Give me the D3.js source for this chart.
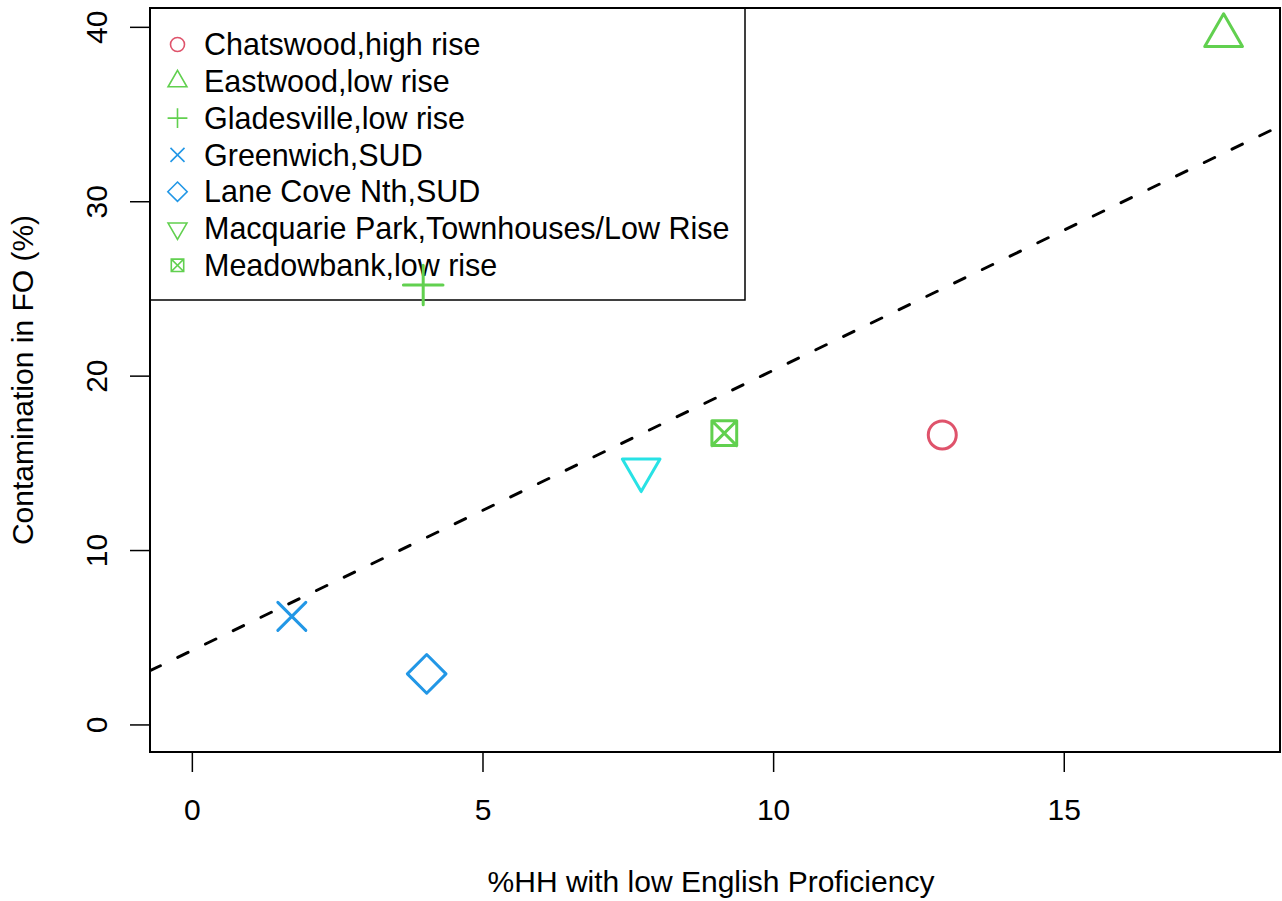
<!DOCTYPE html>
<html>
<head>
<meta charset="utf-8">
<script src="https://cdn.jsdelivr.net/npm/d3@7"></script>
<style>
  html, body { margin: 0; padding: 0; background: #fff; }
  svg { display: block; }
  text { font-family: "Liberation Sans", Arial, Helvetica, sans-serif; fill: #000; }
</style>
</head>
<body>
<svg id="chart" width="1282" height="901"></svg>
<script>
// Sites and their measurements
const sites = [
  "Chatswood,high rise",
  "Eastwood,low rise",
  "Gladesville,low rise",
  "Greenwich,SUD",
  "Lane Cove Nth,SUD",
  "Macquarie Park,Townhouses/Low Rise",
  "Meadowbank,low rise"
];
const lowEnglish    = [12.91, 17.75, 3.98, 1.72, 4.04, 7.73, 9.16];   // %HH with low English proficiency
const contamination = [16.6, 39.5, 25.2, 6.2, 2.9, 14.6, 16.7];      // contamination in FO (%)
const symbols       = [1, 2, 3, 4, 5, 6, 7];                          // R-style pch codes
const pointColors   = ["#DF536B", "#61D04F", "#61D04F", "#2297E6", "#2297E6", "#28E2E5", "#61D04F"];
const legendColors  = ["#DF536B", "#61D04F", "#61D04F", "#2297E6", "#2297E6", "#61D04F", "#61D04F"];

const xLimits = [0, 18];
const yLimits = [0, 39.5];
const xTicks = [0, 5, 10, 15];
const yTicks = [0, 10, 20, 30, 40];
const xTitle = "%HH with low English Proficiency";
const yTitle = "Contamination in FO (%)";

// plot region
const plot = { left: 150, right: 1280, top: 8, bottom: 752 };
const pad = lim => { const e = (lim[1] - lim[0]) * 0.04; return [lim[0] - e, lim[1] + e]; };

const x = d3.scaleLinear().domain(pad(xLimits)).range([plot.left, plot.right]);
const y = d3.scaleLinear().domain(pad(yLimits)).range([plot.bottom, plot.top]);

const svg = d3.select("#chart");

// symbol outlines modelled on R's base graphics point characters
function symbolPath(pch, s) {
  const p = d3.path();
  switch (pch) {
    case 1: p.arc(0, 0, s, 0, 2 * Math.PI); p.closePath(); break;
    case 2: {
      const r = 1.5551 * s, xc = 1.3468 * s, yc = 0.7776 * s;
      p.moveTo(0, -r); p.lineTo(xc, yc); p.lineTo(-xc, yc); p.closePath(); break;
    }
    case 3: {
      const h = Math.SQRT2 * s;
      p.moveTo(-h, 0); p.lineTo(h, 0); p.moveTo(0, -h); p.lineTo(0, h); break;
    }
    case 4:
      p.moveTo(-s, -s); p.lineTo(s, s); p.moveTo(-s, s); p.lineTo(s, -s); break;
    case 5: {
      const h = 1.38 * s;
      p.moveTo(0, -h); p.lineTo(h, 0); p.lineTo(0, h); p.lineTo(-h, 0); p.closePath(); break;
    }
    case 6: {
      const r = 1.5551 * s, xc = 1.3468 * s, yc = 0.7776 * s;
      p.moveTo(0, r); p.lineTo(xc, -yc); p.lineTo(-xc, -yc); p.closePath(); break;
    }
    case 7: {
      const h = 0.886 * s;
      p.rect(-h, -h, 2 * h, 2 * h);
      p.moveTo(-h, -h); p.lineTo(h, h); p.moveTo(-h, h); p.lineTo(h, -h); break;
    }
  }
  return p.toString();
}

// clip for everything drawn inside the plot region
svg.append("clipPath").attr("id", "plotClip")
  .append("rect")
  .attr("x", plot.left).attr("y", plot.top)
  .attr("width", plot.right - plot.left).attr("height", plot.bottom - plot.top);

const n = lowEnglish.length;
const fontSize = 30;

// legend (drawn first, so the points sit on top of it)
const legend = svg.append("g");
legend.append("rect")
  .attr("x", plot.left).attr("y", plot.top)
  .attr("width", 595).attr("height", 292)
  .attr("fill", "#fff").attr("stroke", "#000").attr("stroke-width", 1.5);

const rowY = i => 44.5 + i * 36.8;
const rows = legend.selectAll("g.row")
  .data(d3.range(n))
  .join("g").attr("class", "row")
  .attr("transform", i => `translate(0,${rowY(i)})`);

rows.append("path")
  .attr("transform", "translate(177.5,0)")
  .attr("d", i => symbolPath(symbols[i], 7))
  .attr("fill", "none")
  .attr("stroke", i => legendColors[i])
  .attr("stroke-width", 1.6);

rows.append("text")
  .attr("x", 204).attr("y", 0).attr("dy", "0.35em")
  .attr("font-size", 30.5)
  .text(i => sites[i]);

// least-squares fit of contamination on low English proficiency
const mx = d3.mean(lowEnglish), my = d3.mean(contamination);
let sxy = 0, sxx = 0;
for (let i = 0; i < n; i++) {
  sxy += (lowEnglish[i] - mx) * (contamination[i] - my);
  sxx += (lowEnglish[i] - mx) ** 2;
}
const slope = sxy / sxx, intercept = my - slope * mx;
const [x0, x1] = x.domain();

svg.append("line")
  .attr("clip-path", "url(#plotClip)")
  .attr("x1", x(x0)).attr("y1", y(intercept + slope * x0))
  .attr("x2", x(x1)).attr("y2", y(intercept + slope * x1))
  .attr("stroke", "#000").attr("stroke-width", 3)
  .attr("stroke-dasharray", "11.5 19.3")
  .attr("stroke-linecap", "round");

// points
svg.append("g").attr("clip-path", "url(#plotClip)")
  .selectAll("path")
  .data(d3.range(n))
  .join("path")
  .attr("transform", i => `translate(${x(lowEnglish[i])},${y(contamination[i])})`)
  .attr("d", i => symbolPath(symbols[i], 14))
  .attr("fill", "none")
  .attr("stroke", i => pointColors[i])
  .attr("stroke-width", 3)
  .attr("stroke-linecap", "round")
  .attr("stroke-linejoin", "round");

// axes
const xAxis = d3.axisBottom(x).tickValues(xTicks).tickSize(20).tickPadding(0).tickFormat(d3.format("d"));
const gx = svg.append("g").attr("transform", `translate(0,${plot.bottom})`).call(xAxis);
gx.select(".domain").remove();
gx.selectAll(".tick line").attr("stroke-width", 1.5);
gx.selectAll(".tick text")
  .attr("font-size", fontSize).attr("font-family", "Liberation Sans, Arial, sans-serif")
  .attr("dy", null).attr("y", 68).attr("fill", "#000");

const yAxis = d3.axisLeft(y).tickValues(yTicks).tickSize(20).tickPadding(0).tickFormat(d3.format("d"));
const gy = svg.append("g").attr("transform", `translate(${plot.left},0)`).call(yAxis);
gy.select(".domain").remove();
gy.selectAll(".tick line").attr("stroke-width", 1.5);
gy.selectAll(".tick text")
  .attr("font-size", fontSize).attr("font-family", "Liberation Sans, Arial, sans-serif")
  .attr("x", null).attr("dy", null)
  .attr("text-anchor", "middle")
  .attr("transform", "translate(-43,0) rotate(-90)")
  .attr("fill", "#000");

// plot box
svg.append("rect")
  .attr("x", plot.left).attr("y", plot.top)
  .attr("width", plot.right - plot.left).attr("height", plot.bottom - plot.top)
  .attr("fill", "none").attr("stroke", "#000").attr("stroke-width", 2);

// axis titles
svg.append("text")
  .attr("x", 711).attr("y", 892)
  .attr("text-anchor", "middle").attr("font-size", fontSize)
  .text(xTitle);

svg.append("text")
  .attr("transform", `translate(33,${(plot.top + plot.bottom) / 2}) rotate(-90)`)
  .attr("text-anchor", "middle").attr("font-size", fontSize)
  .text(yTitle);
</script>
</body>
</html>
